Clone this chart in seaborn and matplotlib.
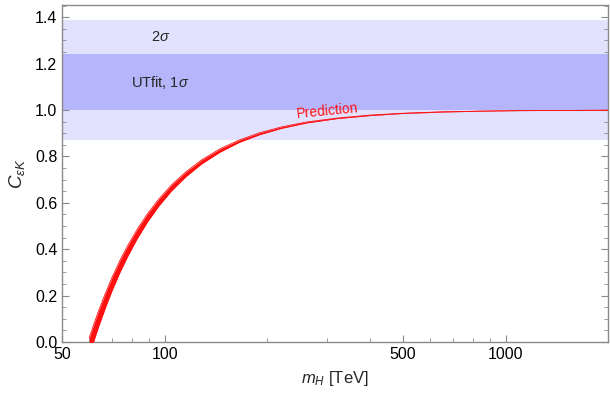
import numpy as np
import pandas as pd
import matplotlib
matplotlib.use("Agg")
import matplotlib.pyplot as plt
import seaborn as sns
from matplotlib.ticker import FixedLocator, NullFormatter, MultipleLocator

# values
m_H = [60, 62, 64, 67, 70, 74, 78, 83, 89, 96, 105, 115, 128, 145, 165, 190,
       220, 260, 320, 400, 500, 650, 850, 1100, 1500, 2000]
c_high = [0.017, 0.079, 0.136, 0.211, 0.278, 0.354, 0.418, 0.486, 0.553, 0.616,
          0.679, 0.732, 0.784, 0.832, 0.870, 0.902, 0.927, 0.948, 0.965, 0.978,
          0.986, 0.992, 0.995, 0.997, 0.998, 0.999]
c_low = [-0.061, 0.007, 0.068, 0.149, 0.221, 0.303, 0.372, 0.446, 0.518, 0.586,
         0.654, 0.711, 0.767, 0.818, 0.860, 0.894, 0.921, 0.944, 0.963, 0.976,
         0.985, 0.991, 0.995, 0.997, 0.998, 0.999]

band_2sigma = (0.87, 1.39)
band_1sigma = (1.00, 1.24)

df = pd.DataFrame({"m": m_H, "hi": c_high, "lo": c_low})

sns.set_style("ticks")
plt.rcParams['font.family'] = ['Liberation Sans', 'DejaVu Sans']
plt.rcParams['mathtext.fontset'] = 'custom'
plt.rcParams['mathtext.rm'] = 'Liberation Sans'
plt.rcParams['mathtext.it'] = 'Liberation Sans:italic'

fig, ax = plt.subplots(figsize=(6.1, 3.98), dpi=100)
fig.subplots_adjust(left=0.102, right=0.996, top=0.987, bottom=0.141)

ax.axhspan(*band_2sigma, color="#e2e2fe", lw=0, zorder=0)
ax.axhspan(*band_1sigma, color="#b5b5fc", lw=0, zorder=1)

ax.fill_between(df["m"], df["lo"], df["hi"], color="#ff1010", lw=0, zorder=3)
sns.lineplot(data=df, x="m", y="hi", color="#ff1010", lw=0.6, ax=ax, zorder=4)
sns.lineplot(data=df, x="m", y="lo", color="#ff1010", lw=0.6, ax=ax, zorder=4)

ax.set_xscale("log")
ax.set_xlim(50, 1990)
ax.set_ylim(0, 1.452)

ax.xaxis.set_major_locator(FixedLocator([50, 100, 500, 1000]))
ax.set_xticklabels(["50", "100", "500", "1000"])
ax.xaxis.set_minor_locator(FixedLocator([60, 70, 80, 90, 200, 300, 400, 600, 700, 800, 900]))
ax.xaxis.set_minor_formatter(NullFormatter())
ax.yaxis.set_major_locator(FixedLocator([0, 0.2, 0.4, 0.6, 0.8, 1.0, 1.2, 1.4]))
ax.yaxis.set_minor_locator(MultipleLocator(0.05))
ax.yaxis.set_major_formatter(plt.FuncFormatter(lambda v, p: f"{v:.1f}"))

frame = "#8a8a8a"
for s in ax.spines.values():
    s.set_color(frame)
    s.set_linewidth(1.0)
ax.tick_params(which="both", direction="in", colors=frame, labelcolor="black",
               labelsize=11.5, right=True, top=False)
ax.tick_params(which="major", length=5, width=0.8)
ax.tick_params(which="minor", length=3, width=0.6)

ax.set_xlabel(r"$m_H$ [TeV]", fontsize=12, labelpad=5)
ax.set_ylabel(r"$C_{\epsilon K}$", fontsize=13.5, labelpad=6)

ax.text(97, 1.315, r"2$\sigma$", fontsize=10.5, ha="center", va="center", zorder=5)
ax.text(97, 1.12, r"UTfit, 1$\sigma$", fontsize=10.5, ha="center", va="center", zorder=5)
ax.text(300, 0.995, "Prediction", fontsize=10, color="#ff1010", rotation=5.5,
        ha="center", va="center", zorder=5)

fig.savefig("out.png", dpi=100)
